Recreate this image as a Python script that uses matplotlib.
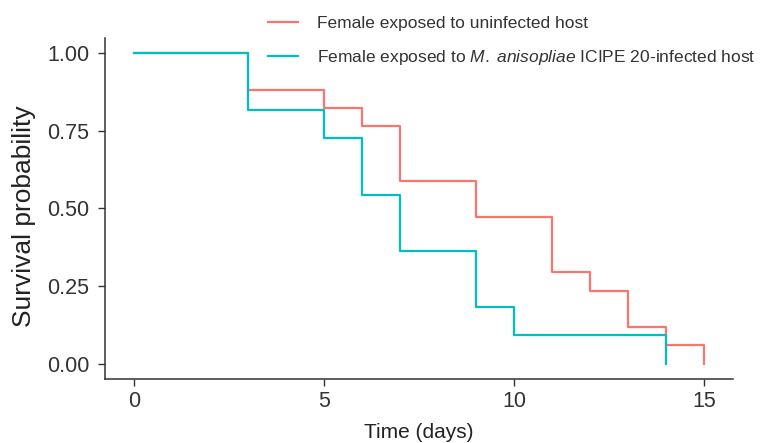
import numpy as np
import matplotlib
matplotlib.use('Agg')
import matplotlib.pyplot as plt

plt.rcParams['font.family'] = ['Liberation Sans', 'DejaVu Sans']
plt.rcParams['mathtext.fontset'] = 'custom'
plt.rcParams['mathtext.rm'] = 'Liberation Sans'
plt.rcParams['mathtext.it'] = 'Liberation Sans:italic'

# Kaplan-Meier steps
uninf_time = [0, 3, 5, 6, 7, 9, 11, 12, 13, 14, 15]
uninf_surv = [1.0, 0.882, 0.824, 0.765, 0.588, 0.471, 0.294, 0.235, 0.118, 0.059, 0.0]
inf_time = [0, 3, 5, 6, 7, 9, 10, 14]
inf_surv = [1.0, 0.818, 0.727, 0.545, 0.364, 0.182, 0.091, 0.0]

labels = ['Female exposed to uninfected host',
          'Female exposed to $\\it{M.}$ $\\it{anisopliae}$ ICIPE 20-infected host']
colors = ['#F8766D', '#00BFC4']
xticks = [0, 5, 10, 15]
yticks = [0.0, 0.25, 0.5, 0.75, 1.0]

fig = plt.figure(figsize=(7.61, 4.43), dpi=100)
ax = fig.add_axes([0.1386, 0.144, 0.824, 0.7707])

ax.step(uninf_time, uninf_surv, where='post', color=colors[0], lw=1.6, label=labels[0])
ax.step(inf_time, inf_surv, where='post', color=colors[1], lw=1.6, label=labels[1])

ax.set_xlim(-0.75, 15.75)
ax.set_ylim(-0.05, 1.05)
ax.set_xticks(xticks)
ax.set_yticks(yticks)
ax.set_yticklabels(['%.2f' % v for v in yticks])
for s in ['top', 'right']:
	ax.spines[s].set_visible(False)
for s in ['left', 'bottom']:
	ax.spines[s].set_color('#333333')
	ax.spines[s].set_linewidth(1.1)
ax.tick_params(axis='both', labelsize=15.5, colors='#333333', length=5, width=1.0, labelcolor='#333333')
ax.tick_params(axis='y', pad=6.5)
ax.set_xlabel('Time (days)', fontsize=15, color='#222222', labelpad=8)
ax.set_ylabel('Survival probability', fontsize=19, color='#222222')
ax.yaxis.set_label_coords(-0.111, 0.477)

leg = fig.legend(loc='center left', bbox_to_anchor=(268/761, 1 - 41.5/443), frameon=False,
                 handlelength=1.75, handletextpad=1.05, borderpad=0,
                 borderaxespad=0, labelspacing=0.95, prop={'size': 12.5})
for t in leg.get_texts():
	t.set_color('#333333')

fig.savefig('out.png', dpi=100)
